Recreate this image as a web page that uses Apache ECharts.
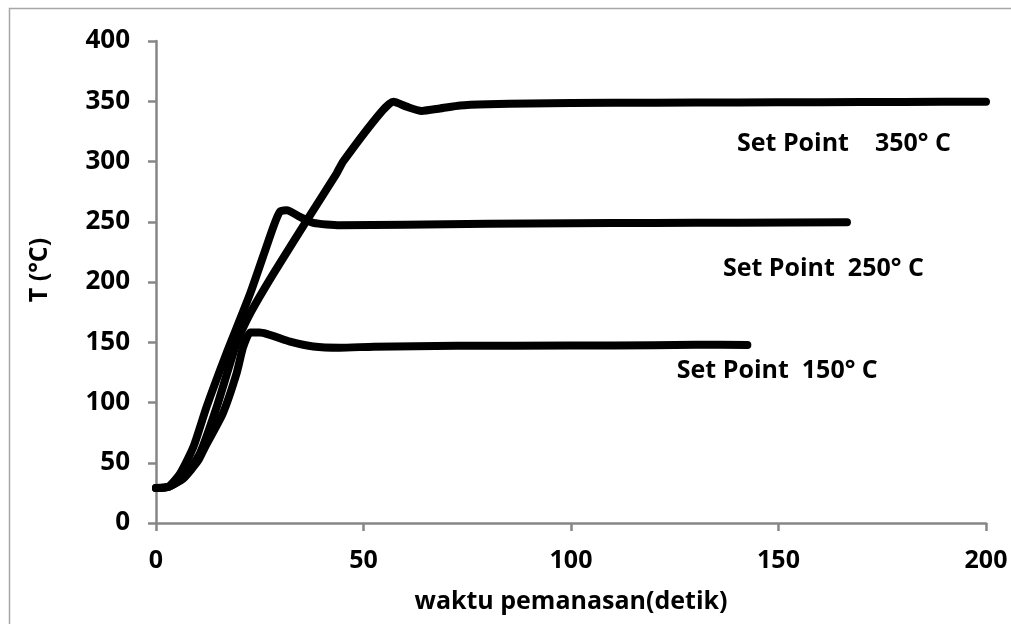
<!DOCTYPE html>
<html>
<head>
<meta charset="utf-8">
<script src="https://cdn.jsdelivr.net/npm/echarts@6/dist/echarts.min.js"></script>
<style>
  html, body { margin: 0; padding: 0; background: #ffffff; }
  #chart { width: 1011px; height: 624px; }
</style>
</head>
<body>
<div id="chart"></div>
<script>
// ---- data ----
const t350 = [0, 3, 6.6, 10.6, 14.6, 19.4, 22.7, 28.3, 36.3, 43.5, 45.1, 54, 57.2, 60.4, 64, 68.4, 73.3, 80, 90, 100, 120, 140, 160, 180, 200];
const T350 = [29, 30, 38, 58, 96, 149, 174, 207, 251, 290, 300, 340, 349.5, 345.5, 342, 344, 346.5, 347.5, 348.2, 348.5, 348.8, 349, 349.2, 349.4, 349.6];

const t250 = [0, 3, 5.8, 9, 12.2, 17, 22.7, 28.3, 29.9, 31.5, 34.7, 37.9, 44.3, 60, 80, 100, 120, 140, 166.5];
const T250 = [29, 30, 41, 63, 96.5, 141, 190.5, 246, 258.5, 259.5, 254, 249, 247, 247.5, 248.3, 248.8, 249, 249.2, 249.5];

const t150 = [0, 3, 6.6, 10.2, 11.8, 16.1, 19.4, 21, 22.7, 25, 32.3, 37.9, 44.3, 52.4, 72.4, 100, 120, 130, 142.5];
const T150 = [29, 30, 37, 52, 63, 91, 124, 146, 158, 158, 150.5, 146.5, 145.5, 146.3, 147, 147.3, 147.5, 148, 147.7];

const setPointTexts = ['Set Point    350° C', 'Set Point  250° C', 'Set Point  150° C'];
const setPointTime  = [140, 136.6, 125.5];
const setPointTemp  = [314.5, 210.8, 126];

const xTitle = 'waktu pemanasan(detik)';
const yTitle = 'T (°C)';

const FONT = 'Open Sans';
const zip = (a, b) => a.map((v, i) => [v, b[i]]);

function makeSeries(name, xs, ys, idx) {
  return {
    name: name,
    type: 'line',
    data: zip(xs, ys),
    showSymbol: false,
    symbol: 'none',
    smooth: 0.2,
    lineStyle: { color: '#000000', width: 8, cap: 'round', join: 'round' },
    animation: false,
    markPoint: {
      symbol: 'circle',
      symbolSize: 0,
      silent: true,
      animation: false,
      label: {
        show: true,
        position: 'right',
        distance: 0,
        formatter: setPointTexts[idx],
        color: '#000000',
        fontFamily: FONT,
        fontWeight: 'bold',
        fontSize: 25
      },
      data: [{ coord: [setPointTime[idx], setPointTemp[idx]] }]
    }
  };
}

const chart = echarts.init(document.getElementById('chart'), null, { renderer: 'canvas' });
const axisGray = '#868686';

chart.setOption({
  backgroundColor: '#ffffff',
  animation: false,
  graphic: [{
    type: 'rect',
    shape: { x: 9.5, y: 8.5, width: 1200, height: 800 },
    style: { fill: 'none', stroke: '#a6a6a6', lineWidth: 1.5 },
    silent: true,
    z: -10
  }],
  grid: { left: 156, right: 25, top: 41, bottom: 101, containLabel: false },
  xAxis: {
    type: 'value',
    min: 0, max: 200, interval: 50,
    name: xTitle,
    nameLocation: 'middle',
    nameGap: 66,
    nameTextStyle: { color: '#000000', fontFamily: FONT, fontWeight: 'bold', fontSize: 25 },
    axisLine: { show: true, lineStyle: { color: axisGray, width: 2.5 } },
    axisTick: { show: true, inside: false, length: 8, lineStyle: { color: axisGray, width: 2.5 } },
    axisLabel: { color: '#000000', fontFamily: FONT, fontWeight: 'bold', fontSize: 25, margin: 25 },
    splitLine: { show: false }
  },
  yAxis: {
    type: 'value',
    min: 0, max: 400, interval: 50,
    name: yTitle,
    nameLocation: 'middle',
    nameRotate: 90,
    nameGap: 104,
    nameTextStyle: { color: '#000000', fontFamily: FONT, fontWeight: 'bold', fontSize: 25, padding: [0, 0, 0, 24] },
    axisLine: { show: true, lineStyle: { color: axisGray, width: 2.5 } },
    axisTick: { show: true, inside: false, length: 8, lineStyle: { color: axisGray, width: 2.5 } },
    axisLabel: { color: '#000000', fontFamily: FONT, fontWeight: 'bold', fontSize: 26, margin: 26 },
    splitLine: { show: false }
  },
  series: [
    makeSeries('Set Point 350', t350, T350, 0),
    makeSeries('Set Point 250', t250, T250, 1),
    makeSeries('Set Point 150', t150, T150, 2)
  ]
});
</script>
</body>
</html>
